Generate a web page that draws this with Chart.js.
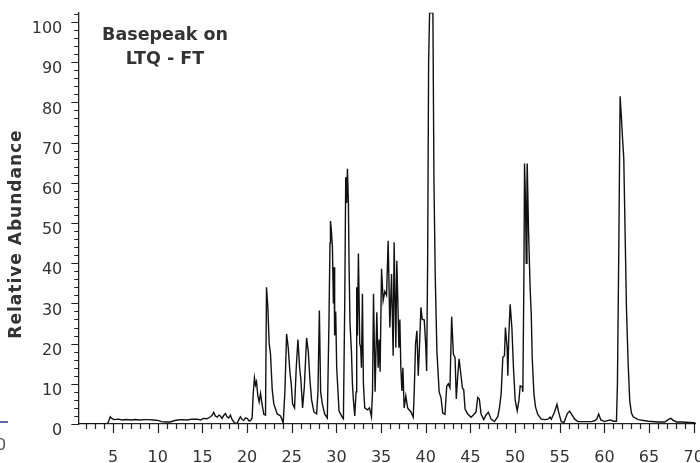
<!DOCTYPE html>
<html>
<head>
<meta charset="utf-8">
<script src="https://cdn.jsdelivr.net/npm/chart.js@4.4.1/dist/chart.umd.min.js"></script>
<style>
    html, body { margin: 0; padding: 0; background: #fff; overflow: hidden; }
    .wrap { width: 700px; height: 463px; overflow: hidden; position: relative; }
    canvas { display: block; }
</style>
</head>
<body>
<div class="wrap">
    <canvas id="chromatogram" width="712" height="463"></canvas>
</div>
<script>
// Basepeak chromatogram (retention time in min, relative abundance in %)
const retentionTime = [
    1.1, 4.35, 4.55, 4.68, 4.85, 5.1, 5.6, 6.0, 6.5, 7.0, 7.5, 8.0, 8.5, 9.0, 9.5, 10.0,
    10.4, 10.9, 11.4, 11.8, 12.2, 12.7, 13.3, 13.8, 14.4, 14.8, 15.1, 15.5, 15.9, 16.1,
    16.26, 16.45, 16.65, 16.85, 17.0, 17.2, 17.4, 17.57, 17.75, 17.94, 18.13, 18.3, 18.5,
    18.7, 18.88, 19.1, 19.25, 19.45, 19.62, 19.8, 20.0, 20.2, 20.37, 20.56, 20.68, 20.82,
    20.94, 21.05, 21.2, 21.35, 21.5, 21.69, 21.87, 22.06, 22.17, 22.32, 22.47, 22.62,
    22.81, 22.99, 23.37, 23.74, 24.04, 24.23, 24.42, 24.6, 24.79, 24.94, 25.09, 25.31,
    25.5, 25.69, 25.88, 26.02, 26.21, 26.4, 26.66, 26.85, 27.03, 27.22, 27.48, 27.78,
    27.93, 28.09, 28.23, 28.42, 28.68, 28.98, 29.16, 29.28, 29.33, 29.42, 29.55, 29.66,
    29.73, 29.8, 29.92, 30.03, 30.11, 30.29, 30.67, 30.78, 30.93, 31.04, 31.15, 31.23,
    31.34, 31.41, 31.52, 31.68, 31.79, 31.9, 32.05, 32.2, 32.27, 32.35, 32.46, 32.61,
    32.72, 32.8, 32.91, 33.02, 33.17, 33.47, 33.7, 33.92, 34.04, 34.15, 34.33, 34.52,
    34.67, 34.78, 34.89, 35.05, 35.23, 35.42, 35.61, 35.79, 35.98, 36.17, 36.35, 36.46,
    36.65, 36.76, 36.88, 36.99, 37.1, 37.21, 37.33, 37.44, 37.58, 37.77, 37.97, 38.34,
    38.6, 38.71, 38.86, 39.01, 39.16, 39.31, 39.46, 39.61, 39.83, 39.99, 40.1, 40.21,
    40.32, 40.43, 40.8, 40.92, 41.06, 41.25, 41.5, 41.71, 41.9, 42.15, 42.35, 42.53,
    42.71, 42.9, 43.09, 43.28, 43.42, 43.58, 43.73, 43.95, 44.1, 44.25, 44.4, 44.7,
    45.07, 45.44, 45.63, 45.82, 46.0, 46.19, 46.5, 46.76, 47.01, 47.32, 47.69, 48.07,
    48.25, 48.44, 48.63, 48.81, 48.92, 49.11, 49.19, 49.3, 49.45, 49.64, 49.82, 50.01,
    50.24, 50.43, 50.57, 50.8, 50.87, 50.99, 51.06, 51.17, 51.25, 51.33, 51.36, 51.51,
    51.62, 51.7, 51.81, 51.92, 52.11, 52.29, 52.56, 52.93, 53.3, 53.68, 53.91, 54.05,
    54.42, 54.69, 54.87, 55.17, 55.48, 55.85, 56.11, 56.3, 56.67, 57.05, 58.54, 58.91,
    59.14, 59.36, 59.6, 60.03, 60.42, 60.71, 60.98, 61.35, 61.46, 61.61, 61.76, 61.91,
    62.02, 62.17, 62.28, 62.47, 62.66, 62.84, 63.03, 63.22, 63.78, 64.91, 66.03, 66.77,
    67.22, 67.45, 67.71, 68.08, 68.65, 70.0, 70.2
];

const abundance = [
    0, 0, 1.0, 1.8, 1.4, 1.1, 1.2, 1.0, 1.1, 1.0, 1.1, 1.0, 1.1, 1.1, 1.0, 0.9,
    0.6, 0.5, 0.5, 0.8, 1.0, 1.1, 1.0, 1.2, 1.2, 1.0, 1.4, 1.3, 1.8, 2.2,
    2.9, 2.0, 1.7, 2.2, 2.0, 1.4, 2.2, 2.6, 1.8, 1.5, 2.2, 1.2, 0.5,
    0.2, 0.1, 1.2, 1.8, 1.1, 0.9, 1.5, 1.4, 0.8, 0.8, 1.5, 7.4, 11.5,
    9.7, 10.5, 7, 5.5, 7.6, 4.7, 2.4, 2.2, 34, 29, 20, 17.4,
    8.6, 5, 2.5, 2.0, 0.3, 8, 22.4, 19, 13, 10, 5, 4,
    14, 21, 14, 11, 4, 9, 21.4, 18, 11, 6, 3, 2.5,
    8, 28.2, 8, 5, 2.5, 1.5, 25, 45, 50.5, 48.5, 44, 30,
    39, 22, 28, 14, 10.7, 3.2, 1.6, 1.3, 30, 61.4, 55, 63.5,
    55, 40, 25, 18, 10, 6, 2, 8, 34, 22, 42.4, 20,
    19, 14, 32.4, 10, 4, 3.5, 4, 1.8, 8, 32.4, 8, 27.8,
    14, 21, 13, 38.6, 30.7, 33, 32, 45.6, 24, 37.3, 17, 45.2,
    19, 40.6, 30, 19, 26, 14, 8.2, 14, 4, 7, 4, 3,
    1.7, 8, 20, 23.2, 12, 20, 29, 26, 25.9, 20, 13.2, 40,
    90, 102.3, 102.3, 60, 37, 18, 8, 6.5, 2.7, 2.4, 9.4, 10,
    9, 26.7, 17.4, 16.5, 6.2, 12, 16.2, 12, 9, 8.5, 3.7, 2.5,
    1.7, 2.5, 3, 6.6, 6.2, 2.5, 1.1, 2.3, 2.9, 1.2, 0.6, 1.9,
    4, 7.5, 16.6, 17, 24, 19, 12, 22, 29.8, 24, 14, 6,
    3.3, 5.8, 9.5, 9.2, 8, 37, 64.8, 55, 40, 60, 64.8, 48,
    39, 33, 27.4, 16.5, 7.5, 4.2, 2.3, 1.2, 1.1, 1.2, 1.7, 1.2,
    3, 4.9, 3, 0.6, 0.4, 2.6, 3.2, 2.5, 1.2, 0.6, 0.6, 0.8,
    1.2, 2.5, 1.0, 0.6, 0.9, 1.0, 0.7, 0.7, 10, 43, 81.5, 76,
    71.5, 66, 52.4, 29, 15, 5.7, 2.7, 1.8, 1.1, 0.7, 0.5, 0.5,
    1.2, 1.4, 0.9, 0.5, 0.5, 0.3, 0.3
];

const xTicks = [5, 10, 15, 20, 25, 30, 35, 40, 45, 50, 55, 60, 65, 70];
const yTicks = [0, 10, 20, 30, 40, 50, 60, 70, 80, 90, 100];
const yTitle = 'Relative Abundance';
const label = ['Basepeak on', 'LTQ - FT'];

const font = '"DejaVu Sans", Verdana, sans-serif';
const textColor = '#333';
const axisColor = '#222';

// minor/major tick marks and the free text
const decorations = {
    id: 'decorations',
    afterDraw(chart) {
        const { ctx, scales: { x, y } } = chart;
        ctx.save();

        ctx.strokeStyle = axisColor;
        ctx.lineWidth = 1.2;
        ctx.beginPath();
        for (let t = Math.ceil(x.min); t <= x.max; t++) {
            const px = Math.round(x.getPixelForValue(t)) + 0.5;
            const len = t % 5 === 0 ? 9 : 5;
            ctx.moveTo(px, y.bottom);
            ctx.lineTo(px, y.bottom + len);
        }
        for (let v = 0; v <= y.max; v += 2) {
            const py = Math.round(y.getPixelForValue(v)) + 0.5;
            const len = v % 10 === 0 ? 7 : 4;
            ctx.moveTo(x.left, py);
            ctx.lineTo(x.left - len, py);
        }
        ctx.stroke();

        ctx.fillStyle = textColor;
        ctx.textAlign = 'center';
        ctx.textBaseline = 'middle';

        ctx.font = 'bold 17.5px ' + font;
        ctx.fillText(label[0], 165, 35);
        ctx.fillText(label[1], 165, 59);

        ctx.save();
        ctx.translate(17, 234);
        ctx.rotate(-Math.PI / 2);
        ctx.font = 'bold 17px ' + font;
        ctx.letterSpacing = '1px';
        ctx.fillText(yTitle, 0, 0);
        ctx.restore();

        // bits of the neighbouring panel on the left edge
        ctx.font = '16px ' + font;
        ctx.fillStyle = '#555';
        ctx.fillText('0', 1, 446);
        ctx.strokeStyle = '#2b3a8c';
        ctx.lineWidth = 1.5;
        ctx.beginPath();
        ctx.moveTo(0, 422);
        ctx.lineTo(8, 422);
        ctx.stroke();

        ctx.restore();
    }
};

new Chart(document.getElementById('chromatogram'), {
    type: 'line',
    data: {
        datasets: [{
            data: retentionTime.map((t, i) => ({ x: t, y: abundance[i] })),
            borderColor: '#111',
            borderWidth: 1.4,
            pointRadius: 0,
            tension: 0,
            fill: false,
        }],
    },
    options: {
        responsive: false,
        animation: false,
        devicePixelRatio: 1,
        layout: { padding: { top: 12.7, right: 16.5, left: 0, bottom: 0 } },
        plugins: {
            legend: { display: false },
            tooltip: { enabled: false },
        },
        scales: {
            x: {
                type: 'linear',
                min: 1.1,
                max: 70.2,
                afterBuildTicks: scale => { scale.ticks = xTicks.map(v => ({ value: v })); },
                // fixed axis box; labels may run past the plot edge
                afterFit: scale => {
                    scale.height = 39;
                    scale.paddingLeft = 0;
                    scale.paddingRight = 0;
                },
                grid: { drawOnChartArea: false, tickLength: 9, tickColor: 'rgba(0,0,0,0)' },
                border: { display: true, color: axisColor, width: 1.3 },
                ticks: {
                    autoSkip: false,
                    maxRotation: 0,
                    padding: 15,
                    color: textColor,
                    font: { family: font, size: 16 },
                },
            },
            y: {
                min: 0,
                max: 102.3,
                afterBuildTicks: scale => { scale.ticks = yTicks.map(v => ({ value: v })); },
                afterFit: scale => {
                    scale.width = 78.3;
                    scale.paddingTop = 0;
                    scale.paddingBottom = 0;
                },
                grid: { drawOnChartArea: false, tickLength: 7, tickColor: 'rgba(0,0,0,0)' },
                border: { display: true, color: axisColor, width: 1.3 },
                ticks: {
                    padding: 9,
                    labelOffset: 7,
                    color: textColor,
                    font: { family: font, size: 16 },
                },
            },
        },
    },
    plugins: [decorations],
});
</script>
</body>
</html>
